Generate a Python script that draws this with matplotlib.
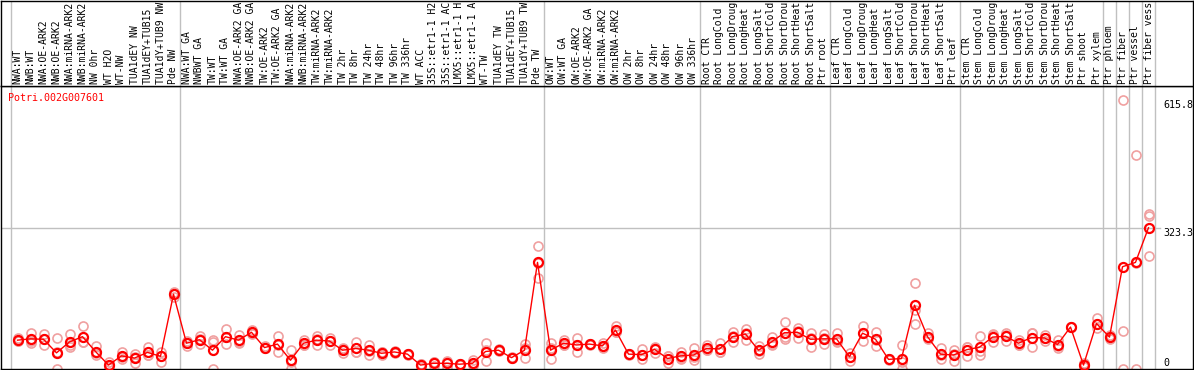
import numpy as np
import matplotlib
matplotlib.use("Agg")
import matplotlib.pyplot as plt

# sample names as shown (the viewer cuts them at 14 characters)
samples = [
    "NWA:WT", "NWB:WT", "NWA:OE-ARK2", "NWB:OE-ARK2", "NWA:miRNA-ARK2", "NWB:miRNA-ARK2",
    "NW 0hr", "WT H2O", "WT-NW", "TUA1dEY NW", "TUA1dEY+TUB15", "TUA1dY+TUB9 NW", "Pde NW",
    "NWA:WT GA", "NWBWT GA", "TW:WT", "TW:WT GA", "NWA:OE-ARK2 GA", "NWB:OE-ARK2 GA",
    "TW:OE-ARK2", "TW:OE-ARK2 GA", "NWA:miRNA-ARK2", "NWB:miRNA-ARK2", "TW:miRNA-ARK2",
    "TW:miRNA-ARK2", "TW 2hr", "TW 8hr", "TW 24hr", "TW 48hr", "TW 96hr", "TW 336hr",
    "WT ACC", "35S::etr1-1 H2", "35S::etr1-1 AC", "LMX5::etr1-1 H", "LMX5::etr1-1 A",
    "WT-TW", "TUA1dEY TW", "TUA1dEY+TUB15", "TUA1dY+TUB9 TW", "Pde TW",
    "OW:WT", "OW:WT GA", "OW:OE-ARK2", "OW:OE-ARK2 GA", "OW:miRNA-ARK2", "OW:miRNA-ARK2",
    "OW 2hr", "OW 8hr", "OW 24hr", "OW 48hr", "OW 96hr", "OW 336hr",
    "Root CTR", "Root LongCold", "Root LongDroug", "Root LongHeat", "Root LongSalt",
    "Root ShortCold", "Root ShortDrou", "Root ShortHeat", "Root ShortSalt", "Ptr root",
    "Leaf CTR", "Leaf LongCold", "Leaf LongDroug", "Leaf LongHeat", "Leaf LongSalt",
    "Leaf ShortCold", "Leaf ShortDrou", "Leaf ShortHeat", "Leaf ShortSalt", "Ptr leaf",
    "Stem CTR", "Stem LongCold", "Stem LongDroug", "Stem LongHeat", "Stem LongSalt",
    "Stem ShortCold", "Stem ShortDrou", "Stem ShortHeat", "Stem ShortSalt", "Ptr shoot",
    "Ptr xylem", "Ptr phloem", "Ptr fiber", "Ptr vessel", "Ptr fiber vess",
]

# group boundaries (index of first sample of each new group)
group_starts = [0, 13, 41, 53, 63, 73, 84, 85, 86, 87, 88]

# mean expression
mean_expr = [
    66, 69, 68, 37, 62, 74, 40, 9, 30, 25, 38, 29, 171,
    59, 67, 43, 74, 66, 84, 49, 57, 20, 59, 66, 64, 43, 47, 43, 36, 39, 34,
    9, 13, 13, 11, 13, 40, 43, 26, 43, 244,
    43, 59, 55, 57, 53, 89, 34, 33, 45, 24, 30, 32,
    47, 46, 74, 80, 43, 62, 83, 84, 68, 69,
    69, 28, 82, 68, 22, 24, 146, 74, 34, 32,
    44, 50, 73, 75, 59, 72, 71, 56, 96, 9, 104,
    73, 234, 244, 323.3,
]

# replicates
rep1 = [
    72, 83, 68, 72, 79, 98, 53, 17, 40, 34, 51, 40, 171,
    64, 75, 62, 91, 78, 89, 52, 75, 43, 66, 75, 72, 47, 62, 55, 32, 41, 35,
    5, 17, 17, 9, 21, 59, 45, 27, 57, 281,
    59, 66, 70, 58, 59, 98, 34, 45, 51, 14, 40, 47,
    55, 59, 85, 91, 53, 74, 107, 94, 82, 80,
    82, 37, 98, 85, 22, 55, 196, 82, 47, 43,
    51, 76, 78, 83, 66, 83, 78, 66, 96, 13,
    116, 78, 615.8, 490, 354,
]
rep2 = [
    63, 64, 55, 0, 56, 62, 36, 7, 27, 14, 32, 17, 165,
    53, 57, 0, 57, 59, 80, 47, 40, 0, 55, 55, 55, 36, 40, 32, 38, 37, 33,
    11, 7, 4, 12, 9, 18, 41, 25, 47, 208,
    22, 55, 40, 56, 47, 84, 33, 22, 37, 29, 24, 21,
    43, 40, 62, 66, 34, 55, 68, 72, 51, 57,
    62, 19, 65, 53, 21, 0, 135, 68, 24, 19,
    30, 32, 61, 65, 55, 51, 65, 49, 95, 5,
    93, 68, 87, 0, 351,
]
rep3 = [
    63, 60, 80, 39, 51, 62, 31, 3, 23, 27, 31, 30, 177,
    60, 69, 66, 74, 61, 83, 48, 56, 17, 56, 68, 65, 46, 39, 42, 38, 39, 34,
    11, 15, 18, 12, 9, 43, 43, 26, 25, 243,
    48, 56, 55, 57, 53, 85, 35, 32, 47, 29, 26, 28,
    43, 39, 75, 83, 42, 57, 74, 86, 71, 70,
    63, 28, 83, 66, 23, 17, 102, 72, 31, 34,
    51, 42, 80, 77, 56, 82, 70, 53, 97, 9,
    104, 73, 0, 242, 259,
]

gene = "Potri.002G007601"
y_ticks = [615.8, 323.3, 0]

W, H = 1194, 370
fig = plt.figure(figsize=(W / 100, H / 100), dpi=100)
plt.rcParams['font.family'] = ['DejaVu Sans Mono']

# pixel layout
col_w = 13.0
x0_px = 17.5        # centre of first column
xmin = -(x0_px - 1) / col_w
xmax = xmin + (W - 2) / col_w
zero_px, scale = 369.0, 0.437
ybot = (zero_px - 368.5) / scale
ytop = (zero_px - 86) / scale

ax = fig.add_axes([1 / W, (H - 368.5) / H, (W - 2) / W, (368.5 - 86) / H])
axl = fig.add_axes([1 / W, (H - 86) / H, (W - 2) / W, 85.5 / H])

x = np.arange(len(samples))
grey = '#c0c0c0'

for a in (ax, axl):
    a.set_xlim(xmin, xmax)
    a.set_xticks([])
    a.set_yticks([])
    for s in a.spines.values():
        s.set_color('black')
        s.set_linewidth(1.0)
    for g in group_starts:
        a.axvline(g - 0.5, color=grey, lw=1.0, zorder=0)

# sample labels, rotated, above the plot
axl.set_ylim(0, 1)
for xi, name in zip(x, samples):
    axl.text(xi, 0.02, name, rotation=90, ha='center', va='bottom',
             fontsize=7.0, color='black', clip_on=True)

ax.set_ylim(ybot, ytop)
ax.axhline(y_ticks[1], xmax=(1160 - 1) / (W - 2), color=grey, lw=1.0, zorder=0)

pink = '#f0a0a0'
for rep in (rep1, rep2, rep3):
    ax.plot(x, rep, linestyle='none', marker='o', ms=6.5, mfc='none',
            mec=pink, mew=1.2, zorder=2, clip_on=True)

ax.plot(x, mean_expr, color='red', lw=1.0, marker='o', ms=6.5, mfc='none',
        mec='red', mew=1.6, zorder=3)

ax.text((8 - 1) / (W - 2), (368.5 - 98) / (368.5 - 86), gene, transform=ax.transAxes,
        color='red', fontsize=7.2, ha='left', va='center')

# value labels on the right
tx = (1163 - 1) / (W - 2)
tr = ax.get_yaxis_transform()
ax.text(tx, y_ticks[0], "615.8", transform=tr, fontsize=7.2, ha='left', va='top')
ax.text(tx, y_ticks[1], "323.3", transform=tr, fontsize=7.2, ha='left', va='top')
ax.text(tx, 3, "0", transform=tr, fontsize=7.2, ha='left', va='bottom')

fig.savefig("out.png", dpi=100)
